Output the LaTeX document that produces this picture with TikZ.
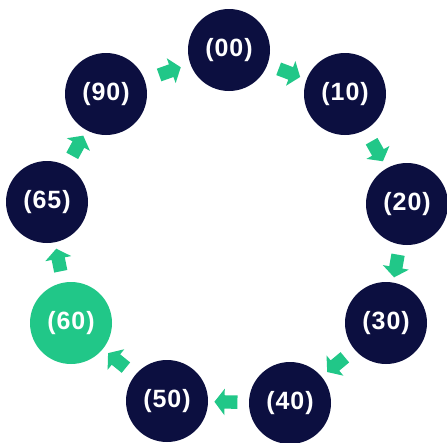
\documentclass[tikz,border=0pt]{standalone}
\usepackage{fontspec}
\setmainfont{Liberation Sans}
\newfontfamily\labfont[LetterSpace=4]{Liberation Sans}
\usetikzlibrary{shapes.arrows}
\definecolor{navy}{HTML}{0C0F40}
\definecolor{mint}{HTML}{21C788}
\tikzset{
  stage/.style={circle, fill=navy, minimum size=82pt, inner sep=0pt,
    text=white, font=\labfont\fontsize{25}{28}\selectfont\bfseries},
  hot/.style={stage, fill=mint},
  flowarrow/.style={single arrow, fill=mint, draw=none, minimum width=26pt,
    single arrow head extend=6.5pt, minimum height=23pt, inner xsep=0pt,
    inner ysep=6.5pt, single arrow tip angle=105,
    sloped, allow upside down}
}
\begin{document}
\begin{tikzpicture}[x=1pt,y=-1pt]
\useasboundingbox (0,0) rectangle (447,442);
\fill[white] (0,0) rectangle (447,442);
\node[stage] (n00) at (229,50) {(00)};
\node[stage] (n10) at (345,94) {(10)};
\node[stage] (n20) at (407,204) {(20)};
\node[stage] (n30) at (386,323) {(30)};
\node[stage] (n40) at (290,403) {(40)};
\node[stage] (n50) at (167,401) {(50)};
\node[hot]   (n60) at (71,323) {(60)};
\node[stage] (n65) at (47,202) {(65)};
\node[stage] (n90) at (106,94) {(90)};
\path (n90.center) -- (n00.center) node[midway, flowarrow] (a1) {};
\path (n00.center) -- (n10.center) node[midway, flowarrow] (a2) {};
\path (n10.center) -- (n20.center) node[midway, flowarrow] (a3) {};
\path (n20.center) -- (n30.center) node[midway, flowarrow] (a4) {};
\path (n30.center) -- (n40.center) node[midway, flowarrow] (a5) {};
\path (n40.center) -- (n50.center) node[midway, flowarrow] (a6) {};
\path (n50.center) -- (n60.center) node[midway, flowarrow] (a7) {};
\path (n60.center) -- (n65.center) node[midway, flowarrow] (a8) {};
\path (n65.center) -- (n90.center) node[midway, flowarrow] (a9) {};
\end{tikzpicture}
\end{document}
